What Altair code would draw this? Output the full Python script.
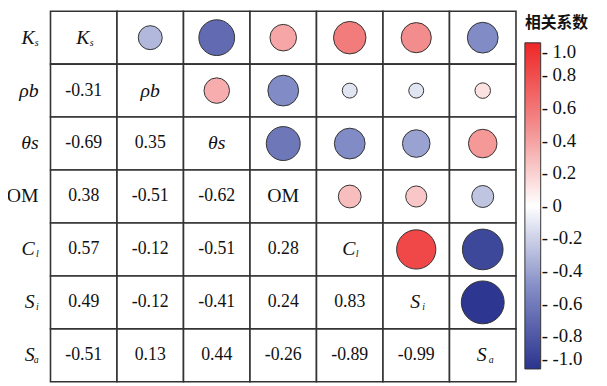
import altair as alt
import pandas as pd

# ---- data ----
variables = ["Ks", "ρb", "θs", "OM", "Cl", "Si", "Sa"]
label_main = ["K", "ρb", "θs", "OM", "C", "S", "S"]
label_sub = ["s", "", "", "", "l", "i", "a"]

lower = [
    [],
    [-0.31],
    [-0.69, 0.35],
    [0.38, -0.51, -0.62],
    [0.57, -0.12, -0.51, 0.28],
    [0.49, -0.12, -0.41, 0.24, 0.83],
    [-0.51, 0.13, 0.44, -0.26, -0.89, -0.99],
]
legend_ticks = [1.0, 0.8, 0.6, 0.4, 0.2, 0.0, -0.2, -0.4, -0.6, -0.8, -1.0]

rows = []
for i, rv in enumerate(variables):
    for j, cv in enumerate(variables):
        if i > j:
            r, kind = lower[i][j], "lower"
        elif i < j:
            r, kind = lower[j][i], "upper"
        else:
            r, kind = 1.0, "diag"
        rows.append({"row": rv, "col": cv, "r": r, "kind": kind})
cells = pd.DataFrame(rows)
labels = pd.DataFrame({"var": variables, "main": label_main, "sub": label_sub})

W, H = 471, 375
X = alt.X("col:N", scale=alt.Scale(domain=variables, paddingInner=0, paddingOuter=0), axis=None)
Y = alt.Y("row:N", scale=alt.Scale(domain=variables, paddingInner=0, paddingOuter=0), axis=None)
XL = alt.X("var:N", scale=alt.Scale(domain=variables), axis=None)
YL = alt.Y("var:N", scale=alt.Scale(domain=variables), axis=None)

serif = "Liberation Serif"
ink = "#111111"

base = alt.Chart(cells)

grid = base.mark_rect(fill="white", stroke="#333333", strokeWidth=1.6).encode(x=X, y=Y)

color_scale = alt.Scale(
    domain=[-1, -0.5, 0, 0.5, 1],
    range=["#2b348f", "#838dc6", "#ffffff", "#f38a8a", "#ee2626"],
    interpolate="rgb",
)

circles = base.transform_filter("datum.kind == 'upper'").transform_calculate(
    ar="abs(datum.r)"
).mark_circle(stroke="#333333", strokeWidth=1, opacity=1).encode(
    x=X,
    y=Y,
    size=alt.Size("ar:Q", scale=alt.Scale(domain=[0, 1], range=[0, 1900]), legend=None),
    color=alt.Color(
        "r:Q",
        scale=color_scale,
        legend=alt.Legend(
            title="相关系数",
            titleFont="Noto Sans CJK SC",
            titleFontSize=16,
            titleFontWeight="bold",
            titleColor=ink,
            titlePadding=12,
            orient="none",
            legendX=480,
            legendY=4,
            direction="vertical",
            gradientLength=330,
            gradientThickness=16,
            gradientStrokeColor="#333333",
            gradientStrokeWidth=1,
            labelFont=serif,
            labelFontSize=19,
            labelColor=ink,
            labelOffset=1,
            labelBaseline="middle",
            labelOverlap=False,
            values=legend_ticks,
            labelExpr="'- ' + (datum.value == 0 ? '0' : replace(format(datum.value, '.1f'), '\u2212', '-'))",
        ),
    ),
)

numbers = base.transform_filter("datum.kind == 'lower'").transform_calculate(
    txt="replace(format(datum.r, '.2f'), '\u2212', '-')"
).mark_text(
    font=serif, fontSize=18, color=ink, baseline="middle", align="center"
).encode(x=X, y=Y, text="txt:N")

lab = alt.Chart(labels)
with_sub = lab.transform_filter("datum.sub != ''")
greek = lab.transform_filter("datum.sub == '' && datum.main != 'OM'")
plain = lab.transform_filter("datum.main == 'OM'")

# diagonal labels
d1 = with_sub.mark_text(font=serif, fontStyle="italic", fontSize=20, color=ink, dx=-1).encode(
    x=XL, y=YL, text="main:N")
d1s = with_sub.mark_text(font=serif, fontStyle="italic", fontSize=10, color=ink, align="left", dx=6, dy=5).encode(
    x=XL, y=YL, text="sub:N")
d2 = greek.mark_text(font=serif, fontStyle="italic", fontSize=20, color=ink).encode(
    x=XL, y=YL, text="main:N")
d3 = plain.mark_text(font=serif, fontSize=20, color=ink).encode(
    x=XL, y=YL, text="main:N")

# row labels (left side)
r1 = with_sub.mark_text(font=serif, fontStyle="italic", fontSize=20, color=ink, align="right", dx=-4).encode(
    x=alt.value(-12), y=YL, text="main:N")
r1s = with_sub.mark_text(font=serif, fontStyle="italic", fontSize=10, color=ink, align="right", dy=5).encode(
    x=alt.value(-12), y=YL, text="sub:N")
r2 = greek.mark_text(font=serif, fontStyle="italic", fontSize=20, color=ink, align="right").encode(
    x=alt.value(-12), y=YL, text="main:N")
r3 = plain.mark_text(font=serif, fontSize=20, color=ink, align="right").encode(
    x=alt.value(-12), y=YL, text="main:N")

chart = alt.layer(grid, circles, numbers, d1, d1s, d2, d3, r1, r1s, r2, r3).properties(
    width=W,
    height=H,
    autosize=alt.AutoSizeParams(type="none"),
    padding={"left": 43, "top": 1, "right": 84, "bottom": 1},
).configure_view(stroke=None)

chart.save("out.html", embed_options={"renderer": "svg", "actions": False})
